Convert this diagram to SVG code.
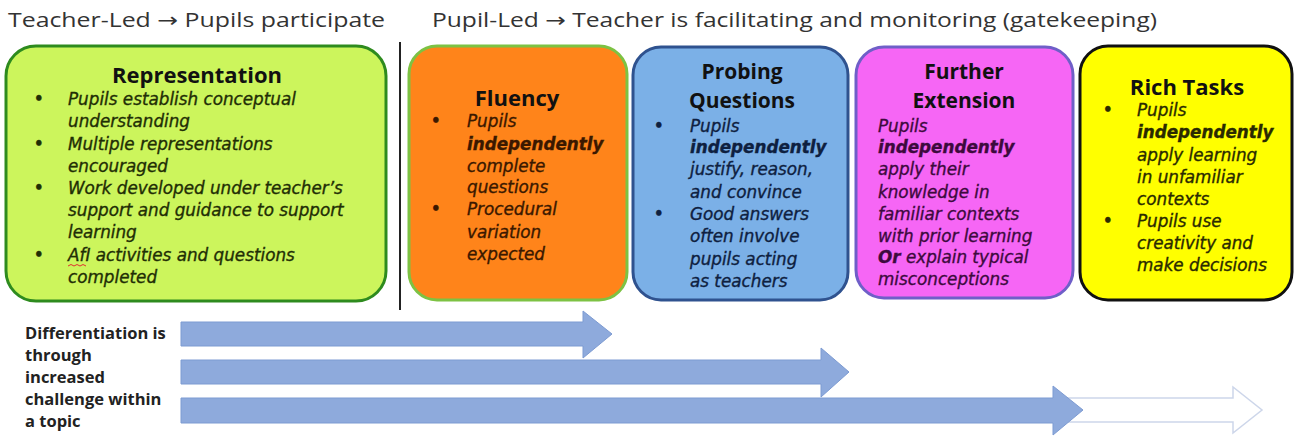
<svg xmlns="http://www.w3.org/2000/svg" width="1295" height="437" viewBox="0 0 1295 437">
<style>
.hdr{font-family:"Open Sans","DejaVu Sans",sans-serif;font-size:20px;fill:#333}
.ttl{font-family:"Open Sans","DejaVu Sans",sans-serif;font-size:21px;font-weight:700;fill:#111;text-anchor:middle}
.body{font-family:"DejaVu Sans","Liberation Sans",sans-serif;font-size:16.8px;font-style:italic;stroke-width:0.35}
.b{font-weight:700}
.bul{font-family:"DejaVu Sans",sans-serif;font-size:15px;font-weight:700;font-style:normal}
.box{stroke-width:3}
.lbl{font-family:"Open Sans","DejaVu Sans",sans-serif;font-size:16.5px;font-weight:700;fill:#222}
.arr{fill:#8eaadc;stroke:#7d9bd2;stroke-width:1}
</style>
<rect width="1295" height="437" fill="#fff"/>
<g id="headers">
<text class="hdr" x="8" y="27" textLength="377" lengthAdjust="spacingAndGlyphs">Teacher-Led → Pupils participate</text>
<text class="hdr" x="432" y="27" textLength="725" lengthAdjust="spacingAndGlyphs">Pupil-Led → Teacher is facilitating and monitoring (gatekeeping)</text>
<line x1="400" y1="42" x2="400" y2="310" stroke="#222" stroke-width="2"/>
</g>
<g id="representation">
<rect class="box" x="6" y="46" width="380" height="255" rx="30" fill="#ccf55c" stroke="#2e8b1e"/>
<text class="ttl" x="197" y="83" style="font-size:22px">Representation</text>
<g class="body" fill="#1f2e05" stroke="#1f2e05">
<text class="bul" x="34" y="104">•</text>
<text x="68" y="105">Pupils establish conceptual</text>
<text x="68" y="127">understanding</text>
<text class="bul" x="34" y="149">•</text>
<text x="68" y="150">Multiple representations</text>
<text x="68" y="172">encouraged</text>
<text class="bul" x="34" y="193">•</text>
<text x="68" y="194">Work developed under teacher’s</text>
<text x="68" y="216">support and guidance to support</text>
<text x="68" y="238">learning</text>
<text class="bul" x="34" y="260">•</text>
<text x="68" y="261">AfI activities and questions</text>
<text x="68" y="283">completed</text>
</g>
<path d="M68 266 l3 -1.5 l3 1.5 l3 -1.5 l3 1.5 l3 -1.5 l3 1.5" fill="none" stroke="#e03030" stroke-width="1"/>
</g>
<g id="fluency">
<rect class="box" x="409" y="46" width="218" height="254" rx="28" fill="#ff841a" stroke="#7dc243"/>
<text class="ttl" x="517" y="106" style="font-size:22px">Fluency</text>
<g class="body" fill="#3a1800" stroke="#3a1800">
<text class="bul" x="431" y="126">•</text>
<text x="467" y="127">Pupils</text>
<text x="467" y="150" class="b">independently</text>
<text x="467" y="172">complete</text>
<text x="467" y="193">questions</text>
<text class="bul" x="431" y="214">•</text>
<text x="467" y="215">Procedural</text>
<text x="467" y="238">variation</text>
<text x="467" y="260">expected</text>
</g>
</g>
<g id="probing">
<rect class="box" x="633" y="47" width="215" height="253" rx="28" fill="#7bb0e7" stroke="#2f528f"/>
<text class="ttl" x="742" y="79">Probing</text>
<text class="ttl" x="742" y="108">Questions</text>
<g class="body" fill="#0e2040" stroke="#0e2040">
<text class="bul" x="654" y="131">•</text>
<text x="690" y="132">Pupils</text>
<text x="690" y="153" class="b">independently</text>
<text x="690" y="175">justify, reason,</text>
<text x="690" y="198">and convince</text>
<text class="bul" x="654" y="219">•</text>
<text x="690" y="220">Good answers</text>
<text x="690" y="242">often involve</text>
<text x="690" y="265">pupils acting</text>
<text x="690" y="287">as teachers</text>
</g>
</g>
<g id="further-extension">
<rect class="box" x="856" y="47" width="217" height="251" rx="28" fill="#f666f5" stroke="#6f5fc8"/>
<text class="ttl" x="964" y="79">Further</text>
<text class="ttl" x="964" y="108">Extension</text>
<g class="body" fill="#3d0a3d" stroke="#3d0a3d">
<text x="878" y="132">Pupils</text>
<text x="878" y="153" class="b">independently</text>
<text x="878" y="175">apply their</text>
<text x="878" y="198">knowledge in</text>
<text x="878" y="220">familiar contexts</text>
<text x="878" y="242">with prior learning</text>
<text x="878" y="263"><tspan class="b">Or</tspan> explain typical</text>
<text x="878" y="285">misconceptions</text>
</g>
</g>
<g id="rich-tasks">
<rect class="box" x="1080" y="46" width="212" height="254" rx="28" fill="#ffff00" stroke="#111"/>
<text class="ttl" x="1187" y="95" style="font-size:22px">Rich Tasks</text>
<g class="body" fill="#2a2a00" stroke="#2a2a00">
<text class="bul" x="1103" y="115">•</text>
<text x="1137" y="116">Pupils</text>
<text x="1137" y="138" class="b">independently</text>
<text x="1137" y="161">apply learning</text>
<text x="1137" y="183">in unfamiliar</text>
<text x="1137" y="205">contexts</text>
<text class="bul" x="1103" y="226">•</text>
<text x="1137" y="227">Pupils use</text>
<text x="1137" y="249">creativity and</text>
<text x="1137" y="271">make decisions</text>
</g>
</g>
<g id="differentiation-label">
<text class="lbl" x="25" y="339">Differentiation is</text>
<text class="lbl" x="25" y="361">through</text>
<text class="lbl" x="25" y="383">increased</text>
<text class="lbl" x="25" y="405">challenge within</text>
<text class="lbl" x="25" y="427">a topic</text>
</g>
<g id="connectors">
<polygon points="1062,398 1233,398 1233,387 1262,410 1233,433 1233,422 1062,422" fill="#fff" stroke="#cdd6ea" stroke-width="1.5"/>
<polygon class="arr" points="181,322 583,322 583,311 612,334 583,358 583,346 181,346"/>
<polygon class="arr" points="181,360 821,360 821,348 849,372 821,397 821,384 181,384"/>
<polygon class="arr" points="181,398 1053,398 1053,386 1083,410 1053,435 1053,423 181,423"/>
</g>
</svg>
